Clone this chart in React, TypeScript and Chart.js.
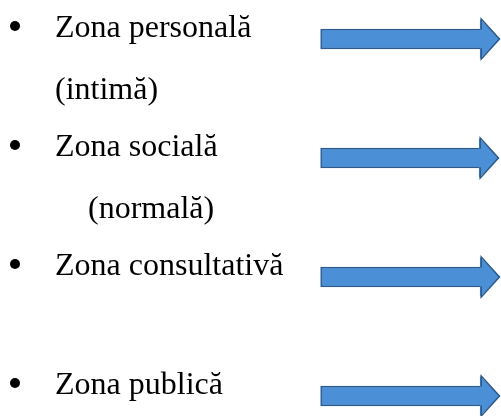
import React, { useEffect, useRef } from "react";
import { Chart, registerables } from "chart.js";

Chart.register(...registerables);

// ---- data ----
const zoneNames = ["Zona personală", "Zona socială", "Zona consultativă", "Zona publică"];
const zoneNotes = ["(intimă)", "(normală)", "", ""];
const zoneRows = [0, 1, 2, 3];
const arrowStart = [64, 64, 64, 64];
const arrowEnd = [96.2, 96, 96.2, 96.2];

// ---- style ----
const FILL = "#4b8fd6";
const EDGE = "#2c5a8c";
const FONT = "32px 'Liberation Serif', 'Times New Roman', serif";
const TEXT_X = 55;
const BULLET_X = 15;
const NOTE_INDENT = [0, 33, 0, 0];
const LINE_GAP = 62;
const HEAD_LEN = 18;
const HEAD_H = 40;

const arrowHeadPlugin = {
  id: "arrowHeads",
  afterDatasetsDraw(chart: any) {
    const meta = chart.getDatasetMeta(0);
    const ctx = chart.ctx;
    ctx.save();
    meta.data.forEach((el: any) => {
      const { x, y, height } = el.getProps(["x", "y", "height"], true);
      const t = height / 2;
      const h = HEAD_H / 2;
      const bw = 2;
      ctx.beginPath();
      ctx.moveTo(x - bw, y - t);
      ctx.lineTo(x - bw, y - h);
      ctx.lineTo(x + HEAD_LEN, y);
      ctx.lineTo(x - bw, y + h);
      ctx.lineTo(x - bw, y + t);
      ctx.closePath();
      ctx.fillStyle = FILL;
      ctx.fill();
      ctx.beginPath();
      ctx.moveTo(x - 0.75, y - t + 0.75);
      ctx.lineTo(x - 0.75, y - h);
      ctx.lineTo(x + HEAD_LEN - 0.5, y);
      ctx.lineTo(x - 0.75, y + h);
      ctx.lineTo(x - 0.75, y + t - 0.75);
      ctx.strokeStyle = EDGE;
      ctx.lineWidth = 1.5;
      ctx.lineJoin = "miter";
      ctx.stroke();
    });
    ctx.restore();
  },
};

const labelPlugin = {
  id: "zoneLabels",
  afterDraw(chart: any) {
    const ctx = chart.ctx;
    const yScale = chart.scales.y;
    const left = chart.chartArea.left;
    ctx.save();
    ctx.font = FONT;
    ctx.fillStyle = "#000";
    ctx.textAlign = "left";
    ctx.textBaseline = "alphabetic";
    zoneRows.forEach((row, i) => {
      const base = yScale.getPixelForValue(row) - 2;
      ctx.beginPath();
      ctx.arc(left + BULLET_X, base - 11, 5, 0, Math.PI * 2);
      ctx.fill();
      ctx.fillText(zoneNames[i], left + TEXT_X, base);
      if (zoneNotes[i]) {
        ctx.fillText(zoneNotes[i], left + TEXT_X + NOTE_INDENT[i], base + LINE_GAP);
      }
    });
    ctx.restore();
  },
};

export default function App() {
  const ref = useRef<HTMLCanvasElement>(null);
  useEffect(() => {
    if (!ref.current) return;
    const chart = new Chart(ref.current, {
      type: "bar",
      data: {
        datasets: [
          {
            data: zoneRows.map((r, i) => ({ x: [arrowStart[i], arrowEnd[i]], y: r })) as any,
            backgroundColor: FILL,
            borderColor: EDGE,
            borderWidth: 1.5,
            borderSkipped: false,
            barThickness: 20,
            clip: false as any,
          },
        ],
      },
      options: {
        indexAxis: "y",
        animation: false,
        responsive: true,
        maintainAspectRatio: false,
        layout: { padding: 0 },
        plugins: { legend: { display: false }, tooltip: { enabled: false } },
        scales: {
          x: { type: "linear", min: 0, max: 100, display: false, offset: false },
          y: { type: "linear", min: -0.328, max: 3.168, reverse: true, display: false, offset: false },
        },
      },
      plugins: [arrowHeadPlugin, labelPlugin],
    });
    return () => chart.destroy();
  }, []);
  return (
    <div style={{ position: "fixed", left: 0, top: 0, width: 501, height: 416, background: "#fff" }}>
      <canvas ref={ref} />
    </div>
  );
}
